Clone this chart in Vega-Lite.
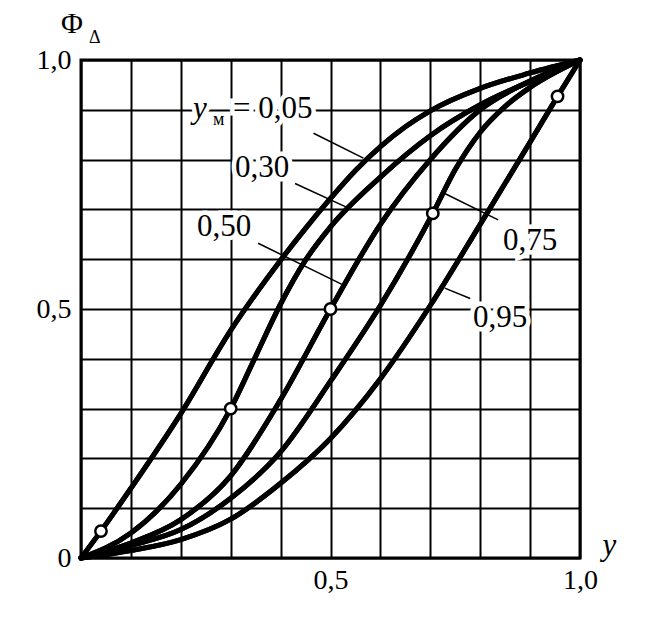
{
  "$schema": "https://vega.github.io/schema/vega-lite/v6.json",
  "width": 499,
  "height": 498,
  "autosize": {"type": "none"},
  "padding": {"left": 81, "top": 60, "right": 90, "bottom": 63},
  "background": "white",
  "config": {
    "view": {"stroke": "black", "strokeWidth": 3},
    "font": "Liberation Serif"
  },
  "datasets": {
    "curves": [
      {"c": "0.05", "x": 0, "f": 0}, {"c": "0.05", "x": 0.04, "f": 0.054}, {"c": "0.05", "x": 0.1, "f": 0.14},
      {"c": "0.05", "x": 0.2, "f": 0.29}, {"c": "0.05", "x": 0.3, "f": 0.457}, {"c": "0.05", "x": 0.4, "f": 0.598},
      {"c": "0.05", "x": 0.45, "f": 0.662}, {"c": "0.05", "x": 0.5, "f": 0.722}, {"c": "0.05", "x": 0.55, "f": 0.778},
      {"c": "0.05", "x": 0.6, "f": 0.826}, {"c": "0.05", "x": 0.65, "f": 0.866}, {"c": "0.05", "x": 0.7, "f": 0.898},
      {"c": "0.05", "x": 0.8, "f": 0.943}, {"c": "0.05", "x": 0.9, "f": 0.974}, {"c": "0.05", "x": 1, "f": 1},

      {"c": "0.30", "x": 0, "f": 0}, {"c": "0.30", "x": 0.1, "f": 0.05}, {"c": "0.30", "x": 0.2, "f": 0.148},
      {"c": "0.30", "x": 0.3, "f": 0.3}, {"c": "0.30", "x": 0.35, "f": 0.405}, {"c": "0.30", "x": 0.4, "f": 0.51},
      {"c": "0.30", "x": 0.45, "f": 0.598}, {"c": "0.30", "x": 0.5, "f": 0.665}, {"c": "0.30", "x": 0.6, "f": 0.765},
      {"c": "0.30", "x": 0.7, "f": 0.848}, {"c": "0.30", "x": 0.8, "f": 0.91}, {"c": "0.30", "x": 0.9, "f": 0.957},
      {"c": "0.30", "x": 1, "f": 1},

      {"c": "0.50", "x": 0, "f": 0}, {"c": "0.50", "x": 0.1, "f": 0.03}, {"c": "0.50", "x": 0.2, "f": 0.077},
      {"c": "0.50", "x": 0.3, "f": 0.165}, {"c": "0.50", "x": 0.4, "f": 0.318}, {"c": "0.50", "x": 0.5, "f": 0.5},
      {"c": "0.50", "x": 0.6, "f": 0.67}, {"c": "0.50", "x": 0.7, "f": 0.8}, {"c": "0.50", "x": 0.8, "f": 0.9},
      {"c": "0.50", "x": 0.9, "f": 0.958}, {"c": "0.50", "x": 1, "f": 1},

      {"c": "0.75", "x": 0, "f": 0}, {"c": "0.75", "x": 0.1, "f": 0.025}, {"c": "0.75", "x": 0.2, "f": 0.057},
      {"c": "0.75", "x": 0.3, "f": 0.12}, {"c": "0.75", "x": 0.4, "f": 0.213}, {"c": "0.75", "x": 0.5, "f": 0.355},
      {"c": "0.75", "x": 0.6, "f": 0.507}, {"c": "0.75", "x": 0.705, "f": 0.692}, {"c": "0.75", "x": 0.75, "f": 0.78},
      {"c": "0.75", "x": 0.8, "f": 0.855}, {"c": "0.75", "x": 0.85, "f": 0.907}, {"c": "0.75", "x": 0.9, "f": 0.945},
      {"c": "0.75", "x": 1, "f": 1},

      {"c": "0.95", "x": 0, "f": 0}, {"c": "0.95", "x": 0.1, "f": 0.015}, {"c": "0.95", "x": 0.2, "f": 0.037},
      {"c": "0.95", "x": 0.3, "f": 0.078}, {"c": "0.95", "x": 0.4, "f": 0.15}, {"c": "0.95", "x": 0.5, "f": 0.24},
      {"c": "0.95", "x": 0.6, "f": 0.36}, {"c": "0.95", "x": 0.7, "f": 0.507}, {"c": "0.95", "x": 0.8, "f": 0.67},
      {"c": "0.95", "x": 0.9, "f": 0.835}, {"c": "0.95", "x": 0.955, "f": 0.927}, {"c": "0.95", "x": 1, "f": 1}
    ],
    "circles": [
      {"x": 0.04, "f": 0.054}, {"x": 0.3, "f": 0.3}, {"x": 0.5, "f": 0.5}, {"x": 0.705, "f": 0.692}, {"x": 0.955, "f": 0.927}
    ],
    "leaders": [
      {"x": 0.466, "f": 0.853, "x2": 0.566, "f2": 0.803},
      {"x": 0.429, "f": 0.752, "x2": 0.535, "f2": 0.703},
      {"x": 0.355, "f": 0.632, "x2": 0.526, "f2": 0.548},
      {"x": 0.729, "f": 0.732, "x2": 0.836, "f2": 0.679},
      {"x": 0.729, "f": 0.542, "x2": 0.78, "f2": 0.521}
    ],
    "labels": [
      {"t": "= 0,05", "x": 0.3046, "f": 0.8835},
      {"t": "0,30", "x": 0.3086, "f": 0.765},
      {"t": "0,50", "x": 0.2325, "f": 0.6466},
      {"t": "0,75", "x": 0.8457, "f": 0.6185},
      {"t": "0,95", "x": 0.7856, "f": 0.4639}
    ]
  },
  "layer": [
    {
      "data": {"name": "curves"},
      "mark": {"type": "line", "interpolate": "monotone", "color": "black", "strokeWidth": 5, "strokeCap": "round", "clip": false},
      "encoding": {
        "x": {
          "field": "x", "type": "quantitative",
          "scale": {"domain": [0, 1], "nice": false, "zero": false},
          "axis": {
            "values": [0, 0.1, 0.2, 0.3, 0.4, 0.5, 0.6, 0.7, 0.8, 0.9, 1],
            "grid": true, "gridColor": "black", "gridWidth": 2, "gridOpacity": 1,
            "ticks": false, "domain": false, "title": null,
            "labelExpr": "datum.value == 0.5 ? '0,5' : (datum.value == 1 ? '1,0' : '')",
            "labelFont": "Liberation Serif", "labelFontSize": 28, "labelColor": "black",
            "labelPadding": 8, "labelFlush": false, "labelOverlap": false
          }
        },
        "y": {
          "field": "f", "type": "quantitative",
          "scale": {"domain": [0, 1], "nice": false, "zero": false},
          "axis": {
            "values": [0, 0.1, 0.2, 0.3, 0.4, 0.5, 0.6, 0.7, 0.8, 0.9, 1],
            "grid": true, "gridColor": "black", "gridWidth": 2, "gridOpacity": 1,
            "ticks": false, "domain": false, "title": null,
            "labelExpr": "datum.value == 0 ? '0' : (datum.value == 0.5 ? '0,5' : (datum.value == 1 ? '1,0' : ''))",
            "labelFont": "Liberation Serif", "labelFontSize": 28, "labelColor": "black",
            "labelPadding": 10, "labelFlush": false, "labelOverlap": false
          }
        },
        "detail": {"field": "c", "type": "nominal"}
      }
    },
    {
      "data": {"name": "labels"},
      "mark": {"type": "text", "align": "left", "baseline": "alphabetic", "font": "Liberation Serif", "fontSize": 31, "fill": "white", "stroke": "white", "strokeWidth": 9},
      "encoding": {
        "x": {"field": "x", "type": "quantitative"},
        "y": {"field": "f", "type": "quantitative"},
        "text": {"field": "t"}
      }
    },
    {
      "data": {"values": [{"t": "y", "x": 0.2244, "f": 0.8835}]},
      "mark": {"type": "text", "align": "left", "baseline": "alphabetic", "font": "Liberation Serif", "fontStyle": "italic", "fontSize": 31, "fill": "white", "stroke": "white", "strokeWidth": 9},
      "encoding": {
        "x": {"field": "x", "type": "quantitative"},
        "y": {"field": "f", "type": "quantitative"},
        "text": {"field": "t"}
      }
    },
    {
      "data": {"name": "leaders"},
      "mark": {"type": "rule", "color": "black", "strokeWidth": 1.5},
      "encoding": {
        "x": {"field": "x", "type": "quantitative"},
        "y": {"field": "f", "type": "quantitative"},
        "x2": {"field": "x2"},
        "y2": {"field": "f2"}
      }
    },
    {
      "data": {"name": "curves"},
      "mark": {"type": "line", "interpolate": "monotone", "color": "black", "strokeWidth": 5, "strokeCap": "round", "clip": false},
      "encoding": {
        "x": {"field": "x", "type": "quantitative"},
        "y": {"field": "f", "type": "quantitative"},
        "detail": {"field": "c", "type": "nominal"}
      }
    },
    {
      "data": {"name": "circles"},
      "mark": {"type": "point", "shape": "circle", "filled": false, "fill": "white", "fillOpacity": 1, "stroke": "black", "strokeWidth": 2.5, "opacity": 1, "size": 130},
      "encoding": {
        "x": {"field": "x", "type": "quantitative"},
        "y": {"field": "f", "type": "quantitative"}
      }
    },
    {
      "data": {"name": "labels"},
      "mark": {"type": "text", "align": "left", "baseline": "alphabetic", "font": "Liberation Serif", "fontSize": 31, "color": "black"},
      "encoding": {
        "x": {"field": "x", "type": "quantitative"},
        "y": {"field": "f", "type": "quantitative"},
        "text": {"field": "t"}
      }
    },
    {
      "data": {"values": [{"t": "y", "x": 0.2244, "f": 0.8835}, {"t": "y", "x": 1.045, "f": 0.006}]},
      "mark": {"type": "text", "align": "left", "baseline": "alphabetic", "font": "Liberation Serif", "fontStyle": "italic", "fontSize": 31, "color": "black"},
      "encoding": {
        "x": {"field": "x", "type": "quantitative"},
        "y": {"field": "f", "type": "quantitative"},
        "text": {"field": "t"}
      }
    },
    {
      "data": {"values": [{"t": "м", "x": 0.2645, "f": 0.8695}, {"t": "Δ", "x": 0.016, "f": 1.034}]},
      "mark": {"type": "text", "align": "left", "baseline": "alphabetic", "font": "Liberation Serif", "fontSize": 18, "color": "black"},
      "encoding": {
        "x": {"field": "x", "type": "quantitative"},
        "y": {"field": "f", "type": "quantitative"},
        "text": {"field": "t"}
      }
    },
    {
      "data": {"values": [{"t": "Φ", "x": -0.018, "f": 1.054}]},
      "mark": {"type": "text", "align": "center", "baseline": "alphabetic", "font": "Liberation Serif", "fontSize": 30, "color": "black"},
      "encoding": {
        "x": {"field": "x", "type": "quantitative"},
        "y": {"field": "f", "type": "quantitative"},
        "text": {"field": "t"}
      }
    }
  ]
}
